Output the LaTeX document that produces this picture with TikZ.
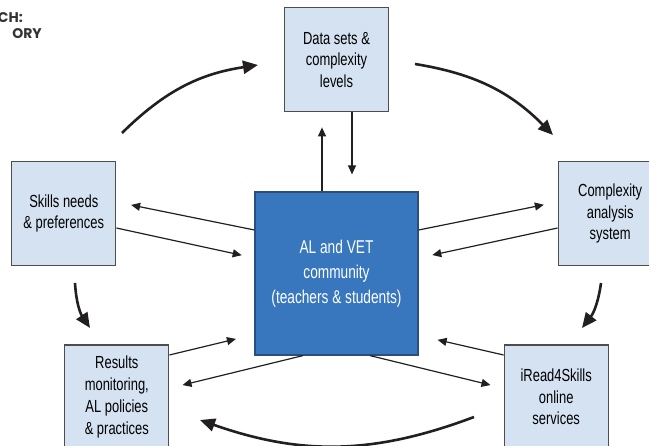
\documentclass[tikz,border=0pt]{standalone}
\usepackage{fontspec}
\setmainfont{Liberation Sans}[FakeStretch=0.74]
\newfontfamily\headfont{Poppins}
\usetikzlibrary{arrows.meta, positioning}
\definecolor{boxblue}{HTML}{D5E2F2}
\definecolor{coreblue}{HTML}{3877BE}
\definecolor{coreline}{HTML}{2B4F7A}
\definecolor{boxline}{HTML}{4D4D4D}
\definecolor{arrowgray}{HTML}{231F20}
\definecolor{headgray}{HTML}{333333}

\begin{document}
\begin{tikzpicture}[x=1pt, y=-1pt,
    box/.style={draw=boxline, line width=1.2pt, fill=boxblue, minimum width=104pt, minimum height=104pt, inner sep=0pt, align=center, font=\fontsize{17.5}{21.7}\selectfont},
    core/.style={draw=coreline, line width=1.2pt, fill=coreblue, minimum width=163pt, minimum height=163pt, inner sep=0pt, text=white, align=center, font=\fontsize{18.5}{25}\selectfont},
    linkarrow/.style={-{Triangle[length=9pt, width=8pt]}, line width=1.2pt, draw=arrowgray},
    flowarrow/.style={-{Triangle[length=15pt, width=13pt]}, line width=2.6pt, draw=arrowgray}]
    \useasboundingbox (0,0) rectangle (649,446);

    \node[anchor=base east, inner sep=0pt, text=headgray, font=\headfont\bfseries\fontsize{14}{16}\selectfont] (headtop) at (23,23) {CH:};
    \node[anchor=base east, inner sep=0pt, text=headgray, font=\headfont\bfseries\fontsize{14}{16}\selectfont] (headbottom) at (42,39) {ORY};

    \node[core] (community) at (336.5,273.5) {AL and VET\\community\\(teachers \& students)};
    \node[box, above=79pt of community] (datasets) {Data sets \&\\complexity\\levels};
    \node[box, left=138pt of community, yshift=60pt] (skills) {Skills needs\\\& preferences};
    \node[box, right=139pt of community, yshift=60pt] (analysis) {Complexity\\analysis\\system};
    \node[box, left=85pt of community, yshift=-123.5pt] (results) {Results\\monitoring,\\AL policies\\\& practices};
    \node[box, right=85pt of community, yshift=-123.5pt] (services) {iRead4Skills\\online\\services};

    \draw[linkarrow, shorten >=15pt] ([xshift=-14.5pt]community.north) -- ([xshift=-14.5pt]datasets.south);
    \draw[linkarrow, shorten >=17pt] ([xshift=15.5pt]datasets.south) -- ([xshift=15.5pt]community.north);
    \draw[linkarrow, shorten >=15pt] ([yshift=43.5pt]community.west) -- ([yshift=11.5pt]skills.east);
    \draw[linkarrow, shorten >=13pt] ([yshift=-14.5pt]skills.east) -- ([yshift=15.5pt]community.west);
    \draw[linkarrow, shorten >=14pt] ([yshift=43.5pt]community.east) -- ([yshift=11.5pt]analysis.west);
    \draw[linkarrow, shorten >=14pt] ([yshift=-14.5pt]analysis.west) -- ([yshift=15.5pt]community.east);
    \draw[linkarrow, shorten >=19pt] ([yshift=42pt]results.east) -- ([yshift=-61pt]community.west);
    \draw[linkarrow, shorten >=13.5pt] ([xshift=-33.5pt]community.south) -- ([yshift=8.75pt]results.east);
    \draw[linkarrow, shorten >=19.5pt] ([yshift=42pt]services.west) -- ([yshift=-62pt]community.east);
    \draw[linkarrow, shorten >=13.5pt] ([xshift=33.5pt]community.south) -- ([yshift=8.75pt]services.west);

    \coordinate (skillsout) at (122,133);
    \coordinate (datasetsin) at (258,65);
    \coordinate (datasetsout) at (415,64);
    \coordinate (analysisin) at (553,135);
    \coordinate (analysisout) at (601,283);
    \coordinate (servicesin) at (582,328);
    \coordinate (servicesout) at (474,417);
    \coordinate (resultsin) at (200,420);
    \coordinate (skillsdown) at (75,283);
    \coordinate (resultstop) at (90,328);

    \draw[flowarrow] (skillsout) to[bend left=18] (datasetsin);
    \draw[flowarrow] (datasetsout) to[bend left=18] (analysisin);
    \draw[flowarrow] (analysisout) to[bend left=15] (servicesin);
    \draw[flowarrow] (servicesout) to[bend left=20] (resultsin);
    \draw[flowarrow] (skillsdown) to[bend right=15] (resultstop);
\end{tikzpicture}
\end{document}
